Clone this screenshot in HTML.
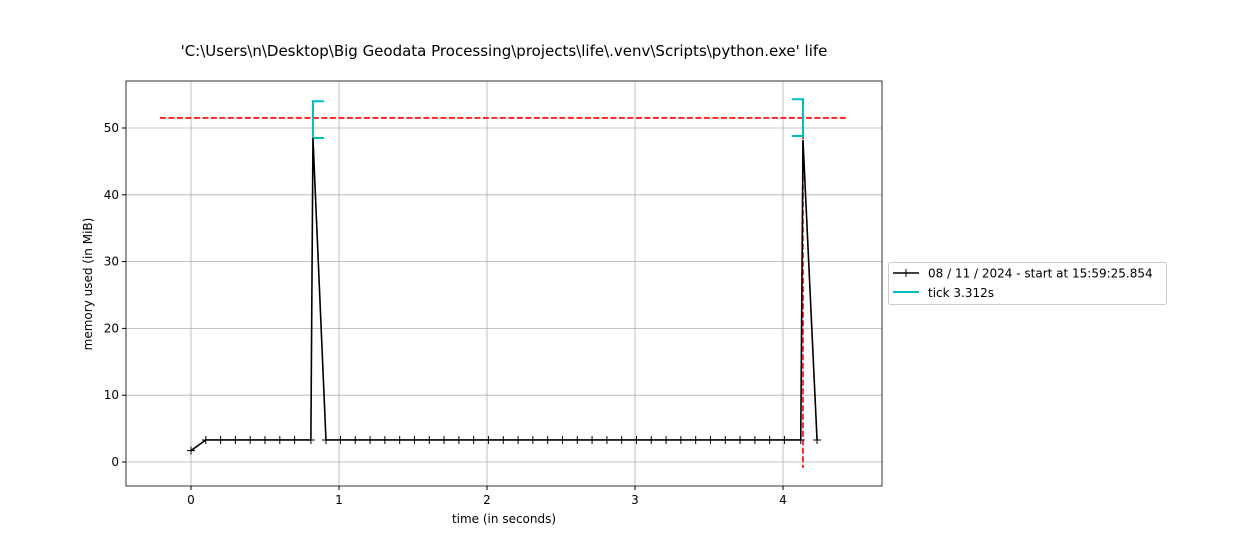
<!DOCTYPE html>
<html><head><meta charset="utf-8"><style>
body{margin:0;background:#fff;font-family:"DejaVu Sans","Liberation Sans",sans-serif;}
svg text{font-family:"DejaVu Sans","Liberation Sans",sans-serif;}
</style></head><body>
<svg id="chart" width="1260" height="540" xmlns="http://www.w3.org/2000/svg">
<rect width="1260" height="540" fill="#fff"/>
<text x="504" y="56" font-size="15" text-anchor="middle">'C:\Users\n\Desktop\Big Geodata Processing\projects\life\.venv\Scripts\python.exe' life</text>
<g id="grid"></g><g id="marks"></g><g id="axes"></g>
<text x="504" y="523" font-size="12" text-anchor="middle">time (in seconds)</text>
<text transform="translate(92,284) rotate(-90)" font-size="12" text-anchor="middle">memory used (in MiB)</text>
<g>
<rect x="888.5" y="262.5" width="278" height="42" rx="2" fill="#fff" stroke="#ccc"/>
<line x1="893" y1="273" x2="919" y2="273" stroke="#000" stroke-width="1.5"/>
<line x1="906" y1="269" x2="906" y2="277" stroke="#000"/>
<text x="928" y="277.5" font-size="12">08 / 11 / 2024 - start at 15:59:25.854</text>
<line x1="893" y1="292" x2="919" y2="292" stroke="#00bfbf" stroke-width="2"/>
<text x="928" y="297" font-size="12">tick 3.312s</text>
</g>
</svg>
<script>
const times=[0,0.1,0.2,0.3,0.4,0.5,0.6,0.7,0.81,0.824,0.912,1.01,1.11,1.21,1.31,1.41,1.51,1.61,1.71,1.81,1.91,2.01,2.11,2.21,2.31,2.41,2.51,2.61,2.71,2.81,2.91,3.01,3.11,3.21,3.31,3.41,3.51,3.61,3.71,3.81,3.91,4.01,4.12,4.135,4.23];
const memory=[1.7,3.3,3.3,3.3,3.3,3.3,3.3,3.3,3.3,48.5,3.3,3.3,3.3,3.3,3.3,3.3,3.3,3.3,3.3,3.3,3.3,3.3,3.3,3.3,3.3,3.3,3.3,3.3,3.3,3.3,3.3,3.3,3.3,3.3,3.3,3.3,3.3,3.3,3.3,3.3,3.3,3.3,3.3,48.2,3.3];
const xTicks=[0,1,2,3,4];
const yTicks=[0,10,20,30,40,50];
const maxMem=51.5;
const tickTime=4.135;
const brackets=[{t:0.824,lo:48.5,hi:54.0,dir:1},{t:4.135,lo:48.8,hi:54.3,dir:-1}];
const X0=126,X1=882,Y0=81,Y1=486;
const sx=t=>191+t*148, sy=v=>462-v*6.68;
const NS="http://www.w3.org/2000/svg";
function mk(p,tag,a){const e=document.createElementNS(NS,tag);for(const k in a)e.setAttribute(k,a[k]);p.appendChild(e);return e;}
const grid=document.getElementById('grid'),marks=document.getElementById('marks'),axes=document.getElementById('axes');
xTicks.forEach(t=>{
 const g=mk(grid,'line',{x1:sx(t),x2:sx(t),y1:Y0,y2:Y1,stroke:'#b0b0b0','stroke-width':0.8});
 
 mk(axes,'line',{x1:sx(t),x2:sx(t),y1:Y1,y2:Y1+4,stroke:'#000'});
 const tx=mk(axes,'text',{x:sx(t),y:Y1+18,'font-size':12,'text-anchor':'middle'});tx.textContent=t;
 
});
yTicks.forEach(v=>{
 const g=mk(grid,'line',{x1:X0,x2:X1,y1:sy(v),y2:sy(v),stroke:'#b0b0b0','stroke-width':0.8});
 
 mk(axes,'line',{x1:X0-4,x2:X0,y1:sy(v),y2:sy(v),stroke:'#000'});
 const tx=mk(axes,'text',{x:X0-7,y:sy(v)+4,'font-size':12,'text-anchor':'end'});tx.textContent=v;
 
});
const fr=mk(axes,'rect',{x:X0,y:Y0,width:X1-X0,height:Y1-Y0,fill:'none',stroke:'#000','stroke-width':0.8});

const hl=mk(marks,'line',{x1:sx(-0.21),x2:sx(4.44),y1:sy(maxMem),y2:sy(maxMem),stroke:'#f00','stroke-width':1.6,'stroke-dasharray':'6,2.5'});

const vl=mk(marks,'line',{x1:sx(tickTime),x2:sx(tickTime),y1:sy(54.3),y2:468,stroke:'#f00','stroke-width':1.6,'stroke-dasharray':'6,2.5'});

brackets.forEach(b=>{
 const x=sx(b.t),w=11*b.dir;
 const p=mk(marks,'path',{d:`M${x+w},${sy(b.hi)}H${x}V${sy(b.lo)}H${x+w}`,fill:'none',stroke:'#00bfbf','stroke-width':2});
 
});
const pl=mk(marks,'polyline',{points:times.map((t,i)=>sx(t)+','+sy(memory[i])).join(' '),fill:'none',stroke:'#000','stroke-width':1.6});

times.forEach((t,i)=>{
 if(memory[i]>40)return;
 const x=sx(t),y=sy(memory[i]);
 const m=mk(marks,'path',{d:`M${x-4},${y}H${x+4}M${x},${y-4}V${y+4}`,stroke:'#000','stroke-width':1});
 
});
</script>
</body></html>
